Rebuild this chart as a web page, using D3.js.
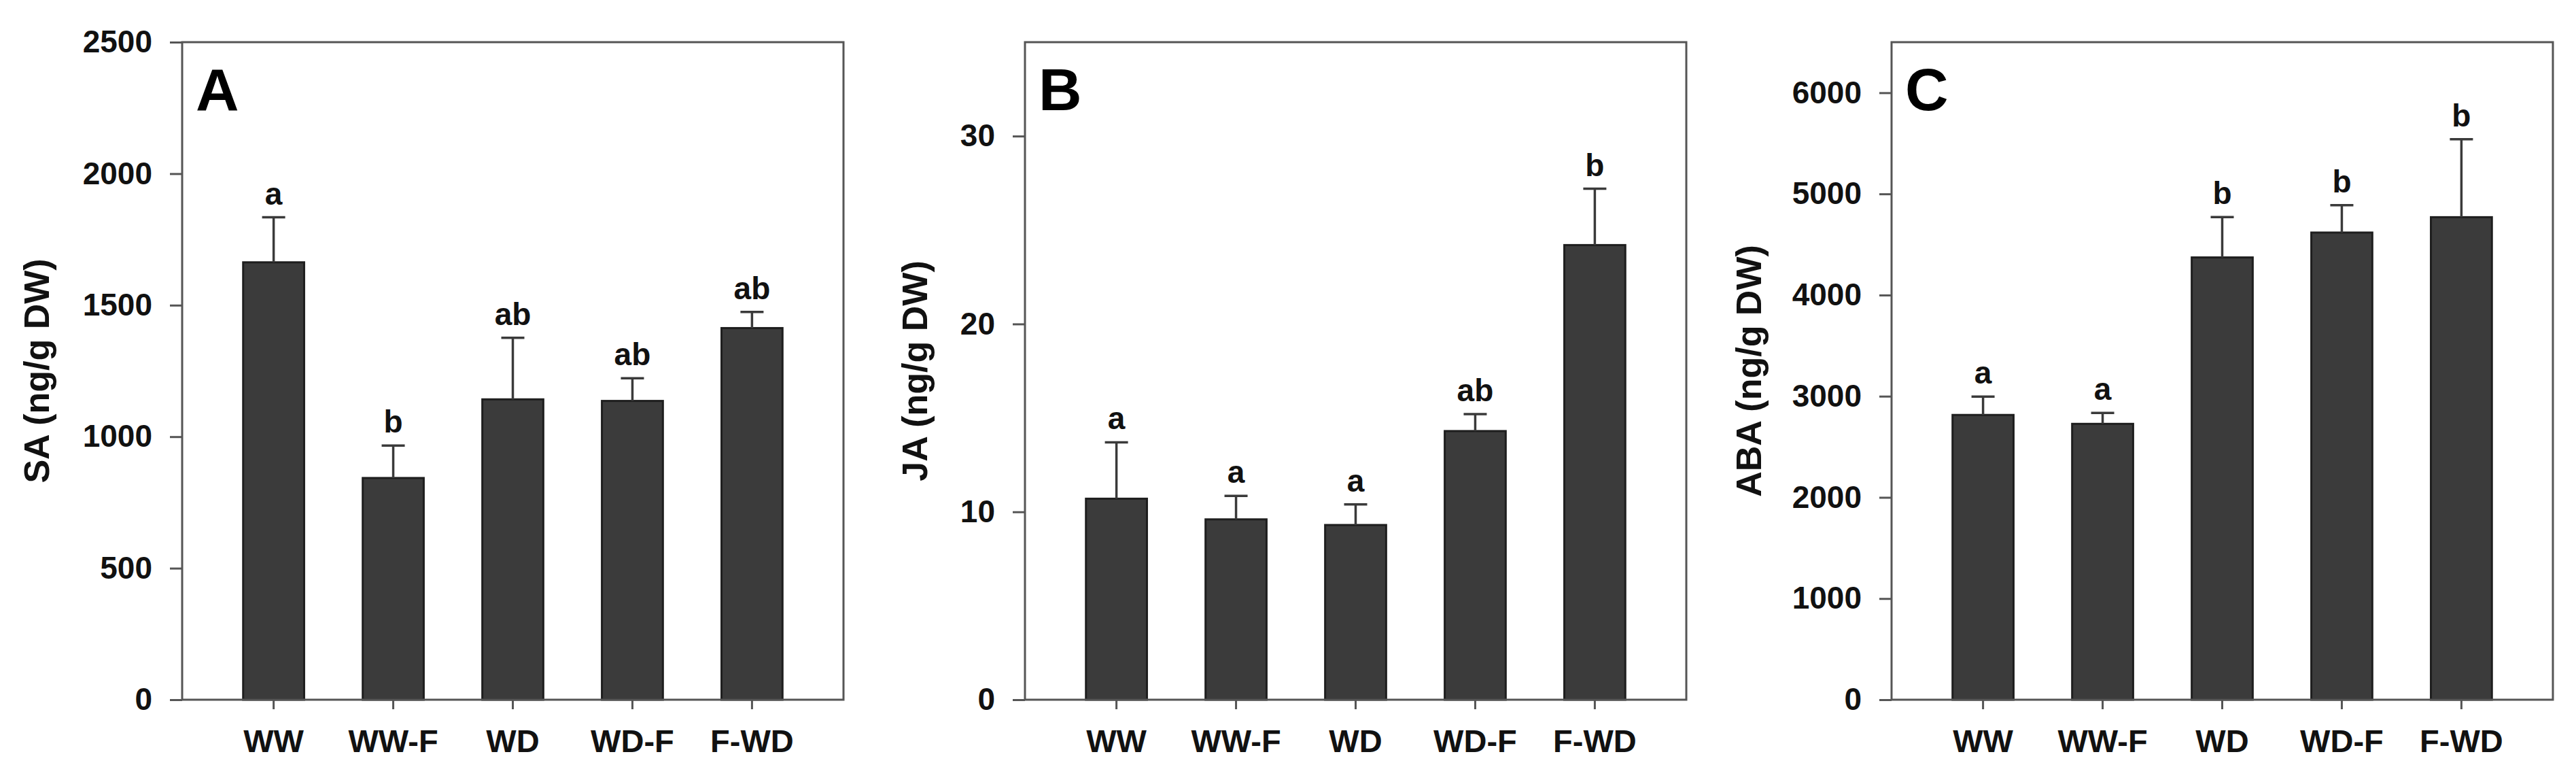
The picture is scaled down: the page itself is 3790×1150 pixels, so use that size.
<html>
<head>
  <script src="https://d3js.org/d3.v7.min.js"></script>
  <title>SA JA ABA</title>
</head>
<body style="margin:0;background:white;">
  <div id="container"></div>
  <script>
    // data
    var groups = ["WW", "WW-F", "WD", "WD-F", "F-WD"];
    var saMean = [1663, 843, 1142, 1136, 1413];
    var saErr = [171, 123, 234, 86, 61];
    var saLetters = ["a", "b", "ab", "ab", "ab"];
    var jaMean = [10.7, 9.6, 9.3, 14.3, 24.2];
    var jaErr = [3.0, 1.25, 1.1, 0.9, 3.0];
    var jaLetters = ["a", "a", "a", "ab", "b"];
    var abaMean = [2815, 2727, 4372, 4618, 4770];
    var abaErr = [182, 108, 398, 270, 771];
    var abaLetters = ["a", "a", "b", "b", "b"];
    var saTicks = [0, 500, 1000, 1500, 2000, 2500];
    var jaTicks = [0, 10, 20, 30];
    var abaTicks = [0, 1000, 2000, 3000, 4000, 5000, 6000];

    var panels = [
      {tag: "A", ylab: "SA (ng/g DW)", mean: saMean, err: saErr, letters: saLetters, max: 2500, ticks: saTicks, left: 268, labOff: 214},
      {tag: "B", ylab: "JA (ng/g DW)", mean: jaMean, err: jaErr, letters: jaLetters, max: 35, ticks: jaTicks, left: 1508, labOff: 162},
      {tag: "C", ylab: "ABA (ng/g DW)", mean: abaMean, err: abaErr, letters: abaLetters, max: 6500, ticks: abaTicks, left: 2783, labOff: 210}
    ];

    var W = 3790, H = 1150;
    var plotTop = 62, plotBottom = 1029, pw = 973;
    var font = "Liberation Sans, Arial, sans-serif";
    var axisColor = "#555";

    var svg = d3.select("#container").append("svg")
      .attr("width", W)
      .attr("height", H)
      .style("display", "block")
      .style("font-family", font);

    svg.append("rect").attr("width", W).attr("height", H).attr("fill", "white");

    panels.forEach(function(p) {
      var x = d3.scaleBand()
        .domain(groups)
        .range([p.left, p.left + pw])
        .paddingInner(0.49)
        .paddingOuter(0.51);
      var y = d3.scaleLinear()
        .domain([0, p.max])
        .range([plotBottom, plotTop]);

      var g = svg.append("g");

      // bars
      g.selectAll("rect.bar")
        .data(groups)
        .enter()
        .append("rect")
        .attr("class", "bar")
        .attr("x", function(d) { return x(d); })
        .attr("y", function(d, i) { return y(p.mean[i]); })
        .attr("width", x.bandwidth())
        .attr("height", function(d, i) { return plotBottom - y(p.mean[i]); })
        .attr("fill", "#3b3b3b")
        .attr("stroke", "#1e1e1e")
        .attr("stroke-width", 3);

      // upper error bars
      var eb = g.selectAll("g.err")
        .data(groups)
        .enter()
        .append("g")
        .attr("class", "err");
      eb.append("line")
        .attr("x1", function(d) { return x(d) + x.bandwidth() / 2; })
        .attr("x2", function(d) { return x(d) + x.bandwidth() / 2; })
        .attr("y1", function(d, i) { return y(p.mean[i]); })
        .attr("y2", function(d, i) { return y(p.mean[i] + p.err[i]); })
        .attr("stroke", "#3a3a3a")
        .attr("stroke-width", 3.5);
      eb.append("line")
        .attr("x1", function(d) { return x(d) + x.bandwidth() / 2 - 17; })
        .attr("x2", function(d) { return x(d) + x.bandwidth() / 2 + 17; })
        .attr("y1", function(d, i) { return y(p.mean[i] + p.err[i]); })
        .attr("y2", function(d, i) { return y(p.mean[i] + p.err[i]); })
        .attr("stroke", "#3a3a3a")
        .attr("stroke-width", 3.5);

      // significance letters
      g.selectAll("text.sig")
        .data(groups)
        .enter()
        .append("text")
        .attr("class", "sig")
        .attr("x", function(d) { return x(d) + x.bandwidth() / 2; })
        .attr("y", function(d, i) { return y(p.mean[i] + p.err[i]) - 19; })
        .attr("text-anchor", "middle")
        .style("font-size", "46px")
        .style("font-weight", "bold")
        .attr("fill", "#111")
        .text(function(d, i) { return p.letters[i]; });

      // frame
      g.append("rect")
        .attr("x", p.left)
        .attr("y", plotTop)
        .attr("width", pw)
        .attr("height", plotBottom - plotTop)
        .attr("fill", "none")
        .attr("stroke", axisColor)
        .attr("stroke-width", 3);

      // y axis
      var yAxis = g.append("g")
        .attr("transform", "translate(" + p.left + ",0)")
        .call(d3.axisLeft(y).tickValues(p.ticks).tickFormat(d3.format("d"))
          .tickSize(18).tickSizeOuter(0).tickPadding(26));
      yAxis.select(".domain").remove();
      yAxis.selectAll("line").attr("stroke", axisColor).attr("stroke-width", 3);
      yAxis.selectAll("text")
        .style("font-size", "46px")
        .style("font-weight", "bold")
        .style("font-family", font)
        .attr("fill", "#111");

      // x axis
      var xAxis = g.append("g")
        .attr("transform", "translate(0," + plotBottom + ")")
        .call(d3.axisBottom(x).tickSize(14).tickSizeOuter(0).tickPadding(30));
      xAxis.select(".domain").remove();
      xAxis.selectAll("line").attr("stroke", axisColor).attr("stroke-width", 3);
      xAxis.selectAll("text")
        .style("font-size", "47px")
        .style("font-weight", "bold")
        .style("font-family", font)
        .attr("fill", "#111");

      // y axis title
      g.append("text")
        .attr("transform", "translate(" + (p.left - p.labOff) + "," + ((plotTop + plotBottom) / 2) + ") rotate(-90)")
        .attr("text-anchor", "middle")
        .attr("dy", "0.35em")
        .style("font-size", "52px")
        .style("font-weight", "bold")
        .attr("fill", "#111")
        .text(p.ylab);

      // panel tag
      g.append("text")
        .attr("x", p.left + 20)
        .attr("y", 162)
        .style("font-size", "88px")
        .style("font-weight", "bold")
        .attr("fill", "#000")
        .text(p.tag);
    });
  </script>
</body>
</html>
